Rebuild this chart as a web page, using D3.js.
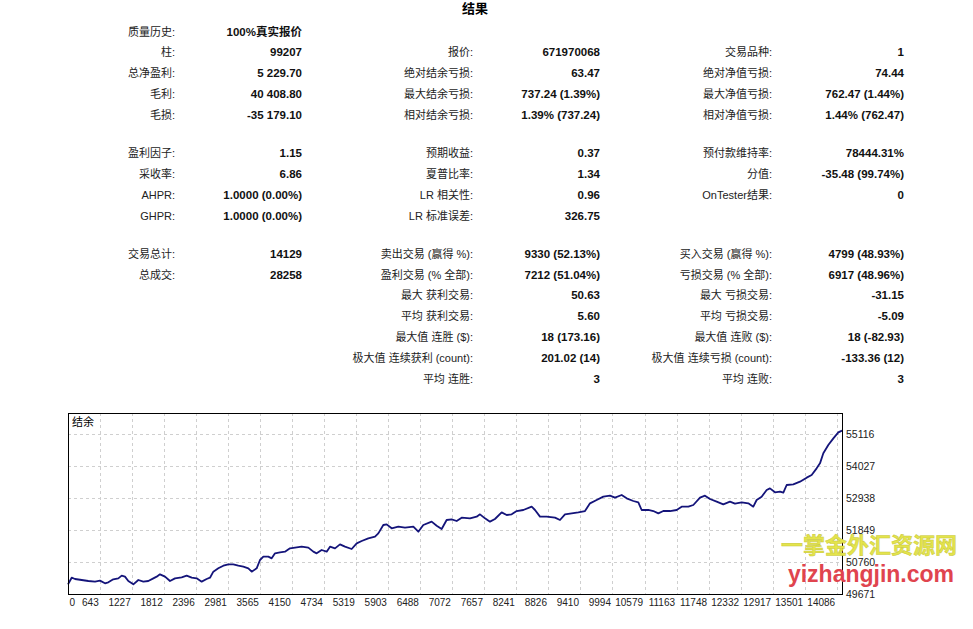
<!DOCTYPE html>
<html>
<head>
<meta charset="utf-8">
<script src="https://cdn.jsdelivr.net/npm/d3@7"></script>
<style>
  body { margin: 0; background: #fff; }
  svg { display: block; font-family: "Liberation Sans", "Noto Sans CJK SC", sans-serif; }
</style>
</head>
<body>
<div id="container"></div>
<script>
const width = 973;
const height = 629;

// report table: [label, value] per row, null = empty row
const col1Rows = [
	["质量历史:", "100%真实报价"], ["柱:", "99207"], ["总净盈利:", "5 229.70"], ["毛利:", "40 408.80"], ["毛损:", "-35 179.10"],
	["盈利因子:", "1.15"], ["采收率:", "6.86"], ["AHPR:", "1.0000 (0.00%)"], ["GHPR:", "1.0000 (0.00%)"],
	["交易总计:", "14129"], ["总成交:", "28258"]
];
const col2Rows = [
	null, ["报价:", "671970068"], ["绝对结余亏损:", "63.47"], ["最大结余亏损:", "737.24 (1.39%)"], ["相对结余亏损:", "1.39% (737.24)"],
	["预期收益:", "0.37"], ["夏普比率:", "1.34"], ["LR 相关性:", "0.96"], ["LR 标准误差:", "326.75"],
	["卖出交易 (赢得 %):", "9330 (52.13%)"], ["盈利交易 (% 全部):", "7212 (51.04%)"], ["最大 获利交易:", "50.63"],
	["平均 获利交易:", "5.60"], ["最大值 连胜 ($):", "18 (173.16)"], ["极大值 连续获利 (count):", "201.02 (14)"], ["平均 连胜:", "3"]
];
const col3Rows = [
	null, ["交易品种:", "1"], ["绝对净值亏损:", "74.44"], ["最大净值亏损:", "762.47 (1.44%)"], ["相对净值亏损:", "1.44% (762.47)"],
	["预付款维持率:", "78444.31%"], ["分值:", "-35.48 (99.74%)"], ["OnTester结果:", "0"], null,
	["买入交易 (赢得 %):", "4799 (48.93%)"], ["亏损交易 (% 全部):", "6917 (48.96%)"], ["最大 亏损交易:", "-31.15"],
	["平均 亏损交易:", "-5.09"], ["最大值 连败 ($):", "18 (-82.93)"], ["极大值 连续亏损 (count):", "-133.36 (12)"], ["平均 连败:", "3"]
];

// balance curve (trade number, balance)
const trades = [0, 67, 128, 250, 371, 493, 584, 675, 736, 827, 919, 980, 1040, 1101, 1193, 1284, 1375, 1466, 1558, 1619,
	1679, 1771, 1862, 1953, 2075, 2166, 2258, 2349, 2440, 2531, 2592, 2653, 2744, 2836, 2927, 3018, 3109, 3201, 3292, 3353,
	3444, 3505, 3566, 3657, 3718, 3779, 3870, 3961, 4052, 4144, 4265, 4387, 4478, 4539, 4630, 4722, 4783, 4874, 4965, 5056,
	5178, 5270, 5361, 5482, 5604, 5665, 5756, 5817, 5908, 6030, 6152, 6304, 6395, 6486, 6638, 6730, 6821, 6912, 7004, 7095,
	7186, 7338, 7460, 7521, 7612, 7703, 7794, 7916, 8008, 8099, 8190, 8312, 8464, 8525, 8616, 8738, 8890, 8981, 9072, 9194,
	9316, 9437, 9529, 9650, 9772, 9894, 9985, 10107, 10198, 10320, 10411, 10472, 10594, 10685, 10776, 10867, 10989, 11111, 11202, 11324,
	11415, 11537, 11628, 11719, 11841, 11962, 12084, 12175, 12297, 12419, 12510, 12571, 12662, 12754, 12814, 12906, 12997, 13058, 13119, 13240,
	13362, 13484, 13575, 13666, 13727, 13788, 13879, 13971, 14062, 14129];
const balance = [50000, 50226, 50181, 50147, 50113, 50091, 50125, 50035, 50068, 50170, 50204, 50295, 50261, 50113, 50000, 50147, 50091, 50113, 50204, 50261,
	50340, 50261, 50113, 50204, 50238, 50295, 50226, 50204, 50091, 50181, 50226, 50431, 50545, 50635, 50681, 50681, 50635, 50601, 50545, 50431,
	50545, 50828, 50941, 50941, 50885, 51055, 51089, 51112, 51225, 51248, 51282, 51248, 51112, 51055, 51168, 51112, 51282, 51225, 51361, 51282,
	51202, 51395, 51475, 51565, 51622, 51735, 52019, 52042, 51906, 51963, 51929, 51963, 51792, 52019, 52133, 51996, 51883, 52189, 52212, 52155,
	52269, 52246, 52303, 52382, 52246, 52133, 52223, 52450, 52359, 52382, 52495, 52530, 52643, 52530, 52303, 52303, 52269, 52189, 52382, 52416,
	52450, 52495, 52756, 52870, 52983, 53017, 52949, 53040, 52927, 52836, 52790, 52530, 52530, 52495, 52416, 52495, 52495, 52530, 52643, 52643,
	52700, 52949, 53017, 52904, 52813, 52722, 52813, 52745, 52790, 52756, 52643, 52870, 52983, 53210, 53267, 53131, 53153, 53119, 53380, 53403,
	53494, 53630, 53721, 53947, 54117, 54458, 54742, 54968, 55172, 55229.7];

const xTickLabels = [0, 643, 1227, 1812, 2396, 2981, 3565, 4150, 4734, 5319, 5903, 6488, 7072, 7657, 8241, 8826,
	9410, 9994, 10579, 11163, 11748, 12332, 12917, 13501, 14086];
const yTickLabels = [49671, 50760, 51849, 52938, 54027, 55116];

let svg = d3.select("#container")
	.append("svg")
	.attr("width", width)
	.attr("height", height);

// Title
svg.append("text")
	.attr("x", 475).attr("y", 13)
	.attr("text-anchor", "middle")
	.style("font-size", "13px").style("font-weight", "bold")
	.text("结果");

// Table rows: y position by row index, blocks separated by a gap
const rowStep = 20.9, blockGap = 17;
function rowY(i) {
	let gaps = i >= 9 ? 2 : (i >= 5 ? 1 : 0);
	return 31.5 + (i + gaps) * rowStep + gaps * (blockGap - rowStep);
}
// col1 ends at 总成交
const col1Index = [0, 1, 2, 3, 4, 5, 6, 7, 8, 9, 10];
const columns = [
	{ rows: col1Rows, idx: col1Index, labelX: 175, valueX: 302 },
	{ rows: col2Rows, idx: col2Rows.map((d, i) => i), labelX: 473, valueX: 600 },
	{ rows: col3Rows, idx: col3Rows.map((d, i) => i), labelX: 772, valueX: 904 }
];

columns.forEach(col => {
	let data = col.rows.map((d, i) => ({ d: d, i: col.idx[i] })).filter(r => r.d);
	let g = svg.append("g");
	g.selectAll(".lbl").data(data).enter().append("text")
		.attr("x", col.labelX).attr("y", r => rowY(r.i) + 4)
		.attr("text-anchor", "end")
		.style("font-size", "11px").style("fill", "#222")
		.text(r => r.d[0]);
	g.selectAll(".val").data(data).enter().append("text")
		.attr("x", col.valueX).attr("y", r => rowY(r.i) + 4)
		.attr("text-anchor", "end")
		.style("font-size", "11.5px").style("font-weight", "bold").style("fill", "#111")
		.text(r => r.d[1]);
});

// Chart
const frame = { left: 68, right: 842, top: 413, bottom: 594 };
const x = d3.scaleLinear().domain([0, 14129]).range([frame.left, frame.right]);
const y = d3.scaleLinear().domain([49671, 55116]).range([frame.bottom, 434]);
const gridShift = -3;

let chart = svg.append("g");

// grid
chart.selectAll(".vgrid").data(xTickLabels.slice(1)).enter().append("line")
	.attr("x1", d => Math.round(x(d) + gridShift) + 0.5).attr("x2", d => Math.round(x(d) + gridShift) + 0.5)
	.attr("y1", frame.top).attr("y2", frame.bottom)
	.attr("stroke", "#cfcfcf").attr("stroke-dasharray", "3,3");
chart.selectAll(".hgrid").data(yTickLabels.slice(1)).enter().append("line")
	.attr("x1", frame.left).attr("x2", frame.right)
	.attr("y1", d => Math.round(y(d)) + 0.5).attr("y2", d => Math.round(y(d)) + 0.5)
	.attr("stroke", "#cfcfcf").attr("stroke-dasharray", "3,3");

// balance line
const line = d3.line()
	.x((d, i) => x(trades[i]))
	.y(d => y(d));
chart.append("path")
	.datum(balance)
	.attr("d", line)
	.attr("fill", "none")
	.attr("stroke", "#14147a")
	.attr("stroke-width", 1.8)
	.attr("stroke-linejoin", "round");

// frame
chart.append("rect")
	.attr("x", frame.left + 0.5).attr("y", frame.top + 0.5)
	.attr("width", frame.right - frame.left).attr("height", frame.bottom - frame.top)
	.attr("fill", "none").attr("stroke", "#000");

chart.append("text")
	.attr("x", frame.left + 4).attr("y", frame.top + 13)
	.style("font-size", "11px")
	.text("结余");

// axis labels
chart.selectAll(".xl").data(xTickLabels).enter().append("text")
	.attr("x", (d, i) => i === 0 ? frame.left + 1.5 : x(d) + gridShift - 1.5)
	.attr("y", 606)
	.attr("text-anchor", (d, i) => i === 0 ? "start" : "end")
	.style("font-size", "10px").style("fill", "#222")
	.text(d => d);
chart.selectAll(".yl").data(yTickLabels).enter().append("text")
	.attr("x", frame.right + 4)
	.attr("y", d => y(d) + 4)
	.style("font-size", "10.5px").style("fill", "#222")
	.text(d => d);

// watermark
svg.append("text")
	.attr("x", 869).attr("y", 553)
	.attr("text-anchor", "middle")
	.style("font-family", "Noto Sans CJK SC").style("font-size", "22px").style("font-weight", "bold")
	.style("fill", "#e4e44c").style("stroke", "#c9c93a").style("stroke-width", 0.5)
	.text("一掌金外汇资源网");
svg.append("text")
	.attr("x", 871).attr("y", 582)
	.attr("text-anchor", "middle")
	.style("font-size", "23px").style("font-weight", "bold")
	.style("fill", "#e0444e")
	.text("yizhangjin.com");
</script>
</body>
</html>
